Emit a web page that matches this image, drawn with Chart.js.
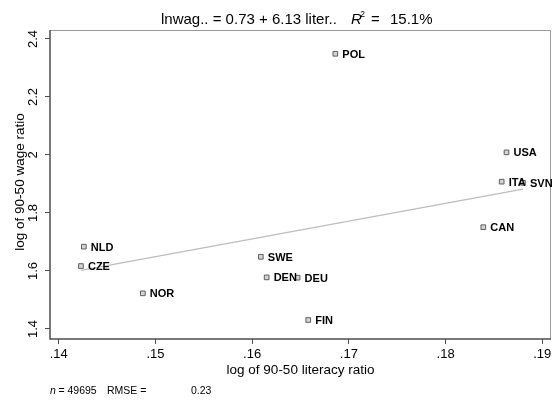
<!DOCTYPE html>
<html>
<head>
<meta charset="utf-8">
<script src="https://cdn.jsdelivr.net/npm/chart.js@4"></script>
<style>
  html, body { margin: 0; padding: 0; background: #fff; }
  #wrap { width: 556px; height: 400px; }
</style>
</head>
<body>
<div id="wrap"><canvas id="literacyChart" width="556" height="400"></canvas></div>
<script>
/* ── DADOS ── */
const countries = ['POL', 'USA', 'ITA', 'SVN', 'CAN', 'NLD', 'CZE', 'NOR', 'SWE', 'DEN', 'DEU', 'FIN'];
const literacyRatio = [0.1686, 0.1863, 0.1858, 0.1880, 0.1839, 0.1426, 0.1423, 0.1487, 0.1609, 0.1615, 0.1647, 0.1658];
const wageRatio = [2.349, 2.009, 1.908, 1.904, 1.751, 1.684, 1.617, 1.523, 1.649, 1.578, 1.577, 1.431];

// fitted line endpoints (lnwage = 0.73 + 6.13 literacy)
const fitX = [0.1423, 0.1880];
const fitY = [1.602, 1.882];

const xTicks = [0.14, 0.15, 0.16, 0.17, 0.18, 0.19];
const yTicks = [1.4, 1.6, 1.8, 2.0, 2.2, 2.4];

const FONT = '"Liberation Sans", Arial, Helvetica, sans-serif';

/* ── DESENHO DE TEXTOS E MOLDURA ── */
const stataLook = {
    id: 'stataLook',
    afterDraw(chart) {
        const c = chart.ctx;
        const area = chart.chartArea;
        const xs = chart.scales.x;
        const ys = chart.scales.y;

        c.save();

        // frame: light top/right, darker axes
        c.strokeStyle = '#9a9a9a';
        c.lineWidth = 1;
        c.beginPath();
        c.moveTo(area.left, area.top + 0.5);
        c.lineTo(area.right - 0.5, area.top + 0.5);
        c.lineTo(area.right - 0.5, area.bottom);
        c.stroke();

        c.strokeStyle = '#4d4d4d';
        c.lineWidth = 1.5;
        c.beginPath();
        c.moveTo(area.left, area.top);
        c.lineTo(area.left, area.bottom);
        c.lineTo(area.right, area.bottom);
        c.stroke();

        c.fillStyle = '#000';

        // x tick labels
        c.font = '13px ' + FONT;
        c.textAlign = 'center';
        c.textBaseline = 'alphabetic';
        xTicks.forEach(v => {
            c.fillText(String(v).replace(/^0/, ''), xs.getPixelForValue(v), 358);
        });

        // y tick labels, rotated
        yTicks.forEach(v => {
            c.save();
            c.translate(37, ys.getPixelForValue(v));
            c.rotate(-Math.PI / 2);
            c.textAlign = 'center';
            c.fillText(String(v), 0, 0);
            c.restore();
        });

        // axis titles
        c.font = '13.5px ' + FONT;
        c.textAlign = 'center';
        c.fillText('log of 90-50 literacy ratio', (area.left + area.right) / 2, 374);

        c.save();
        c.translate(24, 182);
        c.rotate(-Math.PI / 2);
        c.fillText('log of 90-50 wage ratio', 0, 0);
        c.restore();

        // title
        c.textAlign = 'left';
        const base = 23.5;
        c.font = '15px ' + FONT;
        c.fillText('lnwag.. = 0.73 + 6.13 liter..', 161, base);
        c.font = 'italic 15px ' + FONT;
        c.fillText('R', 351, base);
        const rW = c.measureText('R').width;
        c.font = '8.5px ' + FONT;
        c.fillText('2', 351 + rW - 1.5, base - 6.5);
        c.font = '15px ' + FONT;
        c.fillText('=', 371, base);
        c.fillText('15.1%', 390, base);

        // footer
        c.font = 'italic 10.5px ' + FONT;
        c.fillText('n', 50, 394);
        c.font = '10.5px ' + FONT;
        c.fillText(' = 49695', 50 + 5.5, 394);
        c.fillText('RMSE =', 107, 394);
        c.fillText('0.23', 191, 394);

        // country labels
        c.font = 'bold 11px ' + FONT;
        c.textBaseline = 'middle';
        const meta = chart.getDatasetMeta(0);
        meta.data.forEach((pt, i) => {
            c.fillText(countries[i], pt.x + 7, pt.y + 1);
        });

        c.restore();
    }
};

/* ── GRÁFICO ── */
const ctx = document.getElementById('literacyChart');

new Chart(ctx, {
    type: 'scatter',
    data: {
        datasets: [{
            label: 'lnwage',
            data: literacyRatio.map((v, i) => ({ x: v, y: wageRatio[i] })),
            pointStyle: 'rect',
            pointRadius: 3.3,
            pointBorderWidth: 1,
            pointBorderColor: '#5e5e5e',
            pointBackgroundColor: '#d4d4d4'
        }, {
            label: 'fit',
            data: fitX.map((v, i) => ({ x: v, y: fitY[i] })),
            showLine: true,
            pointRadius: 0,
            borderColor: '#bdbdbd',
            borderWidth: 1.3
        }]
    },
    options: {
        responsive: false,
        animation: false,
        devicePixelRatio: 1,
        layout: {
            padding: { top: 30, left: 0, right: 3, bottom: 0 }
        },
        plugins: {
            legend: { display: false },
            tooltip: { enabled: false }
        },
        scales: {
            x: {
                type: 'linear',
                min: 0.1391,
                max: 0.1909,
                afterBuildTicks: s => { s.ticks = xTicks.map(v => ({ value: v })); },
                afterFit: s => { s.height = 61; },
                ticks: { display: false },
                border: { display: false },
                grid: {
                    drawOnChartArea: false,
                    drawTicks: true,
                    tickLength: 5,
                    color: '#4d4d4d',
                    lineWidth: 1
                }
            },
            y: {
                type: 'linear',
                min: 1.3655,
                max: 2.431,
                afterBuildTicks: s => { s.ticks = yTicks.map(v => ({ value: v })); },
                afterFit: s => { s.width = 50; },
                ticks: { display: false },
                border: { display: false },
                grid: {
                    drawOnChartArea: false,
                    drawTicks: true,
                    tickLength: 5,
                    color: '#4d4d4d',
                    lineWidth: 1
                }
            }
        }
    },
    plugins: [stataLook]
});
</script>
</body>
</html>
